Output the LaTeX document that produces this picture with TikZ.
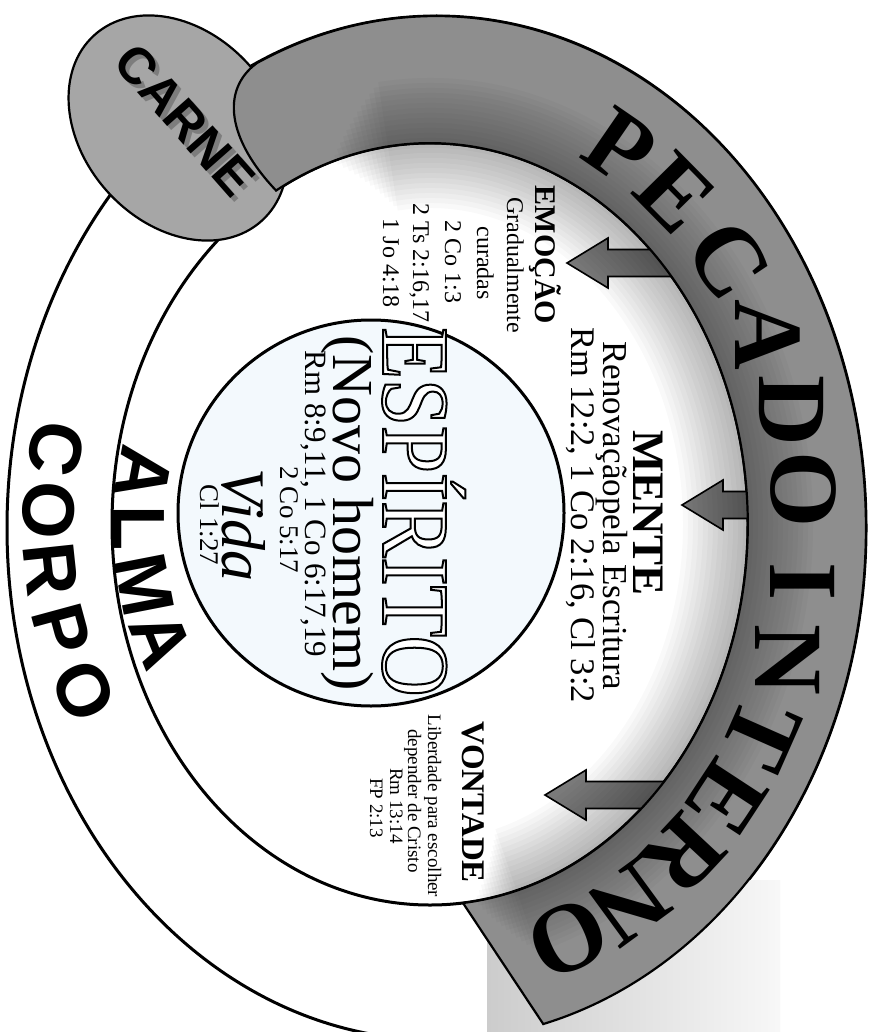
\documentclass[tikz,border=0pt]{standalone}
\usepackage{fontspec}
\setmainfont{Liberation Serif}
\newfontfamily\arialfont{Liberation Sans}
\newfontfamily\tallserif[FakeStretch=0.88]{Liberation Serif}

\definecolor{carnegray}{HTML}{A6A6A6}
\definecolor{bandgray}{HTML}{8E8E8E}
\definecolor{arrowgray}{HTML}{7A7A7A}
\definecolor{spiritblue}{HTML}{F3F9FD}

% outline of the PECADO INTERNO band (between corpo and alma)
\newcommand\bandoutline{(257,63) arc[start angle=-114.7, end angle=75.6, x radius=429.5, y radius=512]
  -- (463,903) arc[start angle=84, end angle=-118.9, x radius=318, y radius=381]
  .. controls (228,140) and (220,90) .. (257,63) -- cycle}

% white letters with a black outline (pdf text render mode)
\newcommand\hollowtext[1]{{\color{white}\special{pdf:literal direct 2 Tr 0 G 2 w}#1\special{pdf:literal direct 0 Tr}}}

\begin{document}
\begin{tikzpicture}[x=1pt, y=-1pt,
    ringline/.style={draw=black, line width=3pt},
    bigsans/.style={font=\arialfont\bfseries\fontsize{74}{74}\selectfont, inner sep=0pt},
    carnetext/.style={font=\arialfont\bfseries\fontsize{51}{51}\selectfont, inner sep=0pt, rotate=-48.6},
    pecletter/.style={font=\bfseries\fontsize{98}{98}\selectfont, inner sep=0pt},
    downtext/.style={rotate=-90, anchor=base, inner sep=0pt},
    soularrow/.style={draw=black, line width=1.6pt, fill=arrowgray}]

  \useasboundingbox (0,0) rectangle (870,1032);
  \fill[white] (0,0) rectangle (870,1032);
  \clip (0,0) rectangle (870,1032);

  % Corpo (outer ring), its shadow corner, and alma (inner ellipse)
  \draw[ringline, fill=white] (436.5,528) ellipse [x radius=429.5, y radius=512];
  \shade[left color=black!20, right color=black!3] (487,880) rectangle (780,1032);
  \draw[ringline, fill=white] (430,524) ellipse [x radius=318, y radius=381];

  % Carne
  \draw[line width=2.2pt, fill=carnegray, rotate around={-48:(178,128)}] (178,128) ellipse [x radius=125, y radius=95];
  \node[carnetext, text=black!70, opacity=0.45] (carneshadow) at (189,124) {CARNE};
  \node[carnetext] (carne) at (185,120) {CARNE};

  % CORPO along the outer ring
  \foreach \ch/\a [count=\i] in {C/191.7, O/182.6, R/173.9, P/164.8, O/155.2}
    \node[bigsans, rotate=90-\a] (corpo\i) at ({436+388*cos(\a)}, {528+388*sin(\a)}) {\ch};

  % ALMA inside the alma ellipse
  \foreach \ch/\a [count=\i] in {A/190.6, L/180, M/169, A/158}
    \node[bigsans, rotate=90-\a] (alma\i) at ({436+297*cos(\a)}, {528+297*sin(\a)}) {\ch};

  % Emocao
  \node[downtext, font=\bfseries\fontsize{30}{30}\selectfont] (emocao) at (535,255) {EMOÇÃO};
  \node[downtext, font=\fontsize{24}{24}\selectfont] (emocao1) at (507,265) {Gradualmente};
  \node[downtext, font=\fontsize{24}{24}\selectfont] (emocao2) at (477,263) {curadas};
  \node[downtext, font=\fontsize{24}{24}\selectfont] (emocao3) at (445,262) {2 Co 1:3};
  \node[downtext, font=\fontsize{24}{24}\selectfont] (emocao4) at (413,263) {2 Ts 2:16,17};
  \node[downtext, font=\fontsize{24}{24}\selectfont] (emocao5) at (383,263) {1 Jo 4:18};

  % Mente
  \node[downtext, font=\bfseries\fontsize{45}{45}\selectfont] (mente) at (633,513) {MENTE};
  \node[downtext, font=\fontsize{35}{35}\selectfont] (mente1) at (603,516) {Renovaçãopela Escritura};
  \node[downtext, font=\fontsize{34.5}{34.5}\selectfont] (mente2) at (571,515) {Rm 12:2, 1 Co 2:16, Cl 3:2};

  % Vontade
  \node[downtext, font=\bfseries\fontsize{33}{33}\selectfont] (vontade) at (462,802) {VONTADE};
  \node[downtext, font=\fontsize{19}{19}\selectfont] (vontade1) at (428,806) {Liberdade para escolher};
  \node[downtext, font=\fontsize{19}{19}\selectfont] (vontade2) at (408,801) {depender de Cristo};
  \node[downtext, font=\fontsize{19}{19}\selectfont] (vontade3) at (390,806) {Rm 13:14};
  \node[downtext, font=\fontsize{19}{19}\selectfont] (vontade4) at (370,808) {FP 2:13};

  % Arrows from the band into the soul
  \foreach \tx/\ty/\len in {567/263/95, 682/505/70, 545/795/105}
    \draw[soularrow] (\tx,\ty) -- ++(41,-25) -- ++(0,11.5) -- ++(\len,0) -- ++(0,27)
      -- ++(-\len,0) -- ++(0,11.5) -- cycle;

  % PECADO INTERNO band, with a soft shadow along its inner edge
  \fill[bandgray] \bandoutline;
  \begin{scope}
    \clip (436.5,528) ellipse [x radius=429.5, y radius=512];
    \foreach \w [evaluate=\w as \s using -108+\w*0.08, evaluate=\w as \e using 82-\w*0.06] in {10,20,...,130}
      \draw[black, opacity=0.022, line width=\w pt] (430,524) ++(\s:318 and 381)
        arc[start angle=\s, end angle=\e, x radius=318, y radius=381];
  \end{scope}
  \draw[line width=2.2pt] \bandoutline;

  \foreach \ch/\a [count=\i] in {P/-60, E/-49.5, C/-37.5, A/-26, D/-15.5, O/-5, I/7, N/17.5, T/28, E/38, R/48, N/58.5, O/69}
    \node[pecletter, rotate={atan2(-sin(\a)/440, cos(\a)/369)-90}] (pec\i)
      at ({436+369*cos(\a)}, {528+440*sin(\a)}) {\ch};

  % Espirito (new man)
  \draw[ringline, fill=spiritblue] (371,513) circle [radius=193];
  \node[downtext, font=\tallserif\fontsize{96}{96}\selectfont] (espirito) at (383,512) {\hollowtext{ESPÍRITO}};
  \node[downtext, font=\fontsize{58}{58}\selectfont] (novo) at (333,513) {(Novo homem)};
  \node[downtext, font=\fontsize{31}{31}\selectfont] (novo1) at (305,504) {Rm 8:9,11, 1 Co 6:17,19};
  \node[downtext, font=\fontsize{27}{27}\selectfont] (novo2) at (280,520) {2 Co 5:17};
  \node[downtext, font=\itshape\fontsize{62}{62}\selectfont] (vida) at (222,525) {Vida};
  \node[downtext, font=\fontsize{27}{27}\selectfont] (vida1) at (200,525) {Cl 1:27};
\end{tikzpicture}
\end{document}
